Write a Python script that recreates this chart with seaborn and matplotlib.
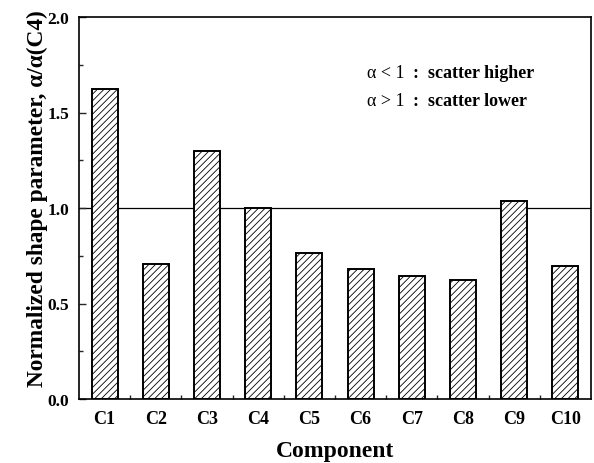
import matplotlib
matplotlib.use("Agg")
import matplotlib.pyplot as plt
import seaborn as sns
import pandas as pd
from matplotlib.ticker import MultipleLocator, FormatStrFormatter, FixedLocator

components = ["C1", "C2", "C3", "C4", "C5", "C6", "C7", "C8", "C9", "C10"]
values = [1.625, 0.708, 1.300, 1.000, 0.762, 0.682, 0.643, 0.623, 1.036, 0.698]
reference_level = 1.0

df = pd.DataFrame({"Component": components, "value": values})

sns.set_theme(style="ticks")
plt.rcParams['font.family'] = ['Liberation Serif', 'DejaVu Serif']
plt.rcParams['hatch.linewidth'] = 0.6
plt.rcParams['hatch.color'] = '#333333'

fig = plt.figure(figsize=(5.94, 4.64), dpi=100)
ax = fig.add_axes([79/594, 1-400/464, (591-79)/594, (400-18)/464])

sns.barplot(data=df, x="Component", y="value", color="white", edgecolor="black",
            linewidth=1.4, width=0.51, ax=ax, saturation=1)
for p in ax.patches:
    p.set_hatch("/////")
    p.set_facecolor("white")
    p.set_edgecolor("black")

ax.axhline(reference_level, color="black", lw=0.9, zorder=0.5)

ax.set_xlim(-0.5, len(components) - 0.5)
ax.set_ylim(0, 2.0)
ax.yaxis.set_major_locator(MultipleLocator(0.5))
ax.yaxis.set_minor_locator(MultipleLocator(0.25))
ax.yaxis.set_major_formatter(FormatStrFormatter("%.1f"))
ax.xaxis.set_minor_locator(FixedLocator([i + 0.5 for i in range(len(components) - 1)]))

ax.tick_params(axis="both", which="both", direction="in", top=False, right=False)
ax.tick_params(axis="y", which="major", length=5, width=1, pad=7)
ax.tick_params(axis="y", which="minor", length=3, width=1)
ax.tick_params(axis="x", which="major", length=4, width=1, pad=8)
ax.tick_params(axis="x", which="minor", length=3, width=1)

for s in ax.spines.values():
    s.set_visible(True)
    s.set_linewidth(1.2)
    s.set_color("black")

for lab in ax.get_xticklabels():
    lab.set_fontweight("bold")
    lab.set_fontsize(13)
    lab.set_color("black")
for lab in ax.get_yticklabels():
    lab.set_fontweight("bold")
    lab.set_fontsize(12.5)
    lab.set_color("black")

ax.set_xlabel("Component", fontsize=17, fontweight="bold", labelpad=9, color="black")
ax.set_ylabel("Normalized shape parameter, α/α(C4)", fontsize=16.8, fontweight="bold",
              color="black")
ax.yaxis.set_label_coords(-0.06, 0.526)

t1 = ax.text(0.562, 0.855, "α < 1", transform=ax.transAxes, fontsize=13,
             va="center", ha="left", color="black")
ax.annotate("  :  scatter higher", xy=(1, 0.5), xycoords=t1, va="center", ha="left",
            fontsize=13, fontweight="bold", color="black")
t2 = ax.text(0.562, 0.782, "α > 1", transform=ax.transAxes, fontsize=13,
             va="center", ha="left", color="black")
ax.annotate("  :  scatter lower", xy=(1, 0.5), xycoords=t2, va="center", ha="left",
            fontsize=13, fontweight="bold", color="black")

fig.savefig("out.png", dpi=100)
